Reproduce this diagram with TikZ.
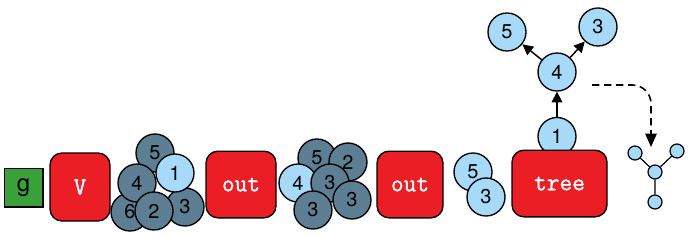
\documentclass[tikz,border=0pt]{standalone}
\usepackage{fontspec}
\setmainfont{TeX Gyre Heros}
\newfontfamily\codefont[FakeBold=1.2]{Latin Modern Mono}
\usetikzlibrary{arrows.meta}
\definecolor{boxred}{RGB}{234,30,36}
\definecolor{slate}{RGB}{94,126,147}
\definecolor{skyblue}{RGB}{166,218,248}
\definecolor{boxgreen}{RGB}{58,160,58}
\tikzset{
  opbox/.style  = {rectangle, draw, fill=boxred, rounded corners=9pt, minimum height=50pt,
                   text=white, font=\fontsize{18.5}{20}\selectfont\codefont, line width=1pt},
  ball/.style   = {circle, draw, fill=slate, minimum size=28.5pt, inner sep=0pt,
                   font=\fontsize{15}{17}\selectfont, line width=1pt},
  ballL/.style  = {ball, fill=skyblue},
  dot/.style    = {circle, draw, fill=skyblue, minimum size=10.5pt, inner sep=0pt, line width=0.9pt},
  arrow/.style  = {line width=1.1pt, -{Triangle[length=8pt,width=8pt]}},
  dasharrow/.style = {line width=1.2pt, dash pattern=on 5.5pt off 3.5pt,
                   -{Triangle[length=10pt,width=8.5pt]}},
}
\begin{document}
\begin{tikzpicture}[x=0.75pt, y=-0.75pt]
    \useasboundingbox (0,0) rectangle (688,236);

    \node[draw, fill=boxgreen, minimum size=29pt, line width=1pt,
          font=\fontsize{18}{20}\selectfont] (g) at (23.5,187.5) {g};
    \node[opbox, minimum width=45pt, minimum height=51pt] (v) at (80,187) {V};

    % first heap
    \node[ball]  (a5) at (155,153) {5};
    \node[ball]  (a6) at (130,212) {6};
    \node[ball]  (a3) at (185,207) {3};
    \node[ball]  (a4) at (137,183) {4};
    \node[ball]  (a2) at (154,211) {2};
    \node[ballL] (a1) at (175,173) {1};

    \node[opbox, minimum width=52.5pt] (out1) at (241,184.5) {out};

    % second heap
    \node[ball]  (b5)  at (317,158) {5};
    \node[ball]  (b2)  at (348,162) {2};
    \node[ballL] (b4)  at (298,183) {4};
    \node[ball]  (b3c) at (330,183) {3};
    \node[ball]  (b3r) at (352,200) {3};
    \node[ball]  (b3b) at (313,210) {3};

    \node[opbox, minimum width=49.5pt] (out2) at (410,184.5) {out};

    % third heap
    \node[ballL] (c5) at (473,172) {5};
    \node[ballL] (c3) at (486,197) {3};

    \node[ballL] (t1) at (557,136.5) {1};
    \node[opbox, minimum width=71.25pt] (tree) at (559.5,183.5) {tree};
    \node[ballL] (t4) at (557,72) {4};
    \node[ballL] (t5) at (507,32) {5};
    \node[ballL] (t3) at (598,27) {3};

    \draw[arrow] (t1) -- (t4);
    \draw[arrow] (t4) -- (t5);
    \draw[arrow] (t4) -- (t3);

    \coordinate (dstart) at (592,85);
    \coordinate (dend)   at (651,147);
    \draw[dasharrow, rounded corners=14pt] (dstart) -| (dend);

    % small tree
    \node[dot] (s0) at (655,172) {};
    \node[dot] (s1) at (635,153) {};
    \node[dot] (s2) at (677,151) {};
    \node[dot] (s3) at (655,202) {};
    \draw[line width=0.9pt] (s0) -- (s1) (s0) -- (s2) (s0) -- (s3);

  \end{tikzpicture}
\end{document}
